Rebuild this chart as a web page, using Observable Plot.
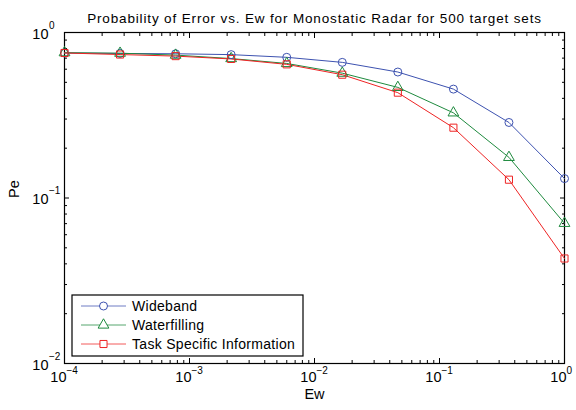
<!DOCTYPE html>
<html>
<head>
<meta charset="utf-8">
<script src="https://cdn.jsdelivr.net/npm/d3@7"></script>
<script src="https://cdn.jsdelivr.net/npm/@observablehq/plot@0.6"></script>
<style>
  html, body { margin: 0; padding: 0; background: white; }
  #chart svg { display: block; }
</style>
</head>
<body>
<div id="chart"></div>
<script>
// ---- data ----
const ew = [1e-4, 2.783e-4, 7.743e-4, 2.154e-3, 5.995e-3, 1.668e-2, 4.642e-2, 1.292e-1, 3.594e-1, 1];
const wideband     = [0.752, 0.747, 0.744, 0.735, 0.708, 0.660, 0.577, 0.455, 0.286, 0.131];
const waterfilling = [0.755, 0.750, 0.730, 0.696, 0.650, 0.568, 0.466, 0.327, 0.176, 0.0703];
const taskSpecific = [0.752, 0.736, 0.720, 0.692, 0.642, 0.556, 0.433, 0.266, 0.129, 0.0431];
const seriesNames = ["Wideband", "Waterfilling", "Task Specific Information"];
const seriesValues = [wideband, waterfilling, taskSpecific];
const seriesColors = ["#3d52b0", "#1e8a3e", "#ee2424"];
const seriesSymbols = ["circle", "triangle", "square"];
const xDecadeExps = [-4, -3, -2, -1, 0];
const yDecadeExps = [-2, -1, 0];
const titleText = "Probability of Error vs. Ew for Monostatic Radar for 500 target sets";
const xLabel = "Ew";
const yLabel = "Pe";

// ---- derived tables ----
const rows = seriesNames.flatMap((name, i) =>
  ew.map((x, j) => ({series: name, x, y: seriesValues[i][j]})));
const xMajor = xDecadeExps.map(e => Math.pow(10, e));
const yMajor = yDecadeExps.map(e => Math.pow(10, e));
const minorOf = exps => exps.slice(0, -1).flatMap(e => [2,3,4,5,6,7,8,9].map(m => m * Math.pow(10, e)));
const xMinor = minorOf(xDecadeExps);
const yMinor = minorOf(yDecadeExps);
const expStr = e => (e < 0 ? "\u2212" : "") + Math.abs(e);

const font = "'Liberation Sans', Arial, Helvetica, sans-serif";
const markerR = 4;

const tickOpts = (anchor, ticks, size) => ({anchor, ticks, tickSize: size, tickFormat: () => "", label: null, strokeWidth: 1});

const plot = Plot.plot({
  width: 576,
  height: 410,
  marginLeft: 64,
  marginRight: 12,
  marginTop: 32,
  marginBottom: 47,
  style: {fontFamily: font, background: "white", color: "black"},
  x: {type: "log", domain: [1e-4, 1]},
  y: {type: "log", domain: [1e-2, 1]},
  color: {domain: seriesNames, range: seriesColors},
  symbol: {domain: seriesNames, range: seriesSymbols},
  marks: [
    // ticks inside, on all four sides
    Plot.axisX(tickOpts("bottom", xMajor, -5)),
    Plot.axisX(tickOpts("top", xMajor, -5)),
    Plot.axisX(tickOpts("bottom", xMinor, -3)),
    Plot.axisX(tickOpts("top", xMinor, -3)),
    Plot.axisY(tickOpts("left", yMajor, -5)),
    Plot.axisY(tickOpts("right", yMajor, -5)),
    Plot.axisY(tickOpts("left", yMinor, -3)),
    Plot.axisY(tickOpts("right", yMinor, -3)),
    Plot.frame({stroke: "black", strokeWidth: 1.2}),

    // x tick labels: "10" + superscript exponent
    Plot.text(xDecadeExps, {x: e => Math.pow(10, e), frameAnchor: "bottom", text: () => "10",
      textAnchor: "end", dx: 2, dy: 18, fontSize: 14.5, fill: "black"}),
    Plot.text(xDecadeExps, {x: e => Math.pow(10, e), frameAnchor: "bottom", text: e => expStr(e),
      textAnchor: "start", dx: 2, dy: 10, fontSize: 10, fill: "black"}),
    // y tick labels
    Plot.text(yDecadeExps, {y: e => Math.pow(10, e), frameAnchor: "left", text: () => "10",
      textAnchor: "end", dx: -16, dy: 1.5, fontSize: 14.5, fill: "black"}),
    Plot.text(yDecadeExps, {y: e => Math.pow(10, e), frameAnchor: "left", text: e => expStr(e),
      textAnchor: "start", dx: -15.5, dy: -7, fontSize: 10, fill: "black"}),

    // axis titles and chart title
    Plot.text([xLabel], {frameAnchor: "bottom", text: d => d, dy: 35, fontSize: 14.5, fill: "black"}),
    Plot.text([yLabel], {frameAnchor: "left", text: d => d, dx: -50, rotate: -90, fontSize: 14.5, fill: "black"}),
    Plot.text([titleText], {frameAnchor: "top", text: d => d, dy: -19, fontSize: 13.5, fill: "black"}),

    // data
    Plot.line(rows, {x: "x", y: "y", z: "series", stroke: "series", strokeWidth: 1}),
    Plot.dot(rows, {x: "x", y: "y", stroke: "series", symbol: "series", r: markerR, strokeWidth: 1, fill: "none"})
  ]
});

document.getElementById("chart").appendChild(plot);

const svg = d3.select(plot);
// slightly wider tracking for the title, as in the reference rendering
svg.selectAll("text").filter(function () { return this.textContent === titleText; })
  .attr("letter-spacing", "0.85px");

// ---- legend (layout in pixels, content from the series arrays) ----
const lg = svg.append("g").attr("font-family", font).attr("text-anchor", "start");
const box = {x: 72, y: 295, w: 231, h: 61};
lg.append("rect").attr("x", box.x).attr("y", box.y).attr("width", box.w).attr("height", box.h)
  .attr("fill", "white").attr("stroke", "black").attr("stroke-width", 1.2);
const rowY = [306, 325, 344];
const symGen = d3.symbol();
const symMap = {circle: d3.symbolCircle, triangle: d3.symbolTriangle, square: d3.symbolSquare};
seriesNames.forEach((name, i) => {
  const y = rowY[i];
  lg.append("line").attr("x1", 81).attr("x2", 126).attr("y1", y).attr("y2", y)
    .attr("stroke", seriesColors[i]).attr("stroke-width", 1).attr("stroke-opacity", 0.75);
  lg.append("path").attr("transform", `translate(103.5,${y})`)
    .attr("d", symGen.type(symMap[seriesSymbols[i]]).size(Math.PI * markerR * markerR)())
    .attr("fill", "white").attr("stroke", seriesColors[i]).attr("stroke-width", 1);
  lg.append("text").attr("x", 132).attr("y", y).attr("dy", "0.36em")
    .attr("font-size", 14).attr("letter-spacing", "0.3px").attr("fill", "black").text(name);
});
</script>
</body>
</html>
